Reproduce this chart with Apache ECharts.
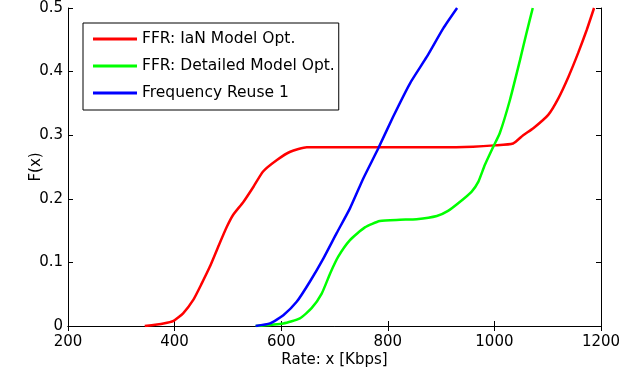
<!DOCTYPE html>
<html>
<head>
<meta charset="utf-8">
<script src="https://cdn.jsdelivr.net/npm/echarts@6/dist/echarts.min.js"></script>
<style>
  html, body { margin: 0; padding: 0; background: #fff; }
  #cdf-box { width: 634px; height: 375px; }
</style>
</head>
<body>
<div id="cdf-box"></div>
<script>
// CDF curves: rate in Kbps, F(x)
const ianX = [344, 379, 398, 416, 435, 451, 466, 482, 498, 510, 529, 548, 566, 592, 617, 648, 700, 800, 900, 960, 1000, 1035, 1054, 1073, 1101, 1120, 1139, 1157, 1173, 1187];
const ianY = [0, 0.004, 0.008, 0.02, 0.041, 0.067, 0.093, 0.125, 0.156, 0.175, 0.195, 0.219, 0.243, 0.261, 0.274, 0.281, 0.281, 0.281, 0.281, 0.282, 0.284, 0.287, 0.300, 0.311, 0.332, 0.358, 0.392, 0.429, 0.465, 0.5];

const detX = [552, 604, 635, 657, 676, 692, 707, 729, 757, 785, 823, 854, 892, 913, 935, 957, 970, 982, 998, 1010, 1029, 1048, 1060, 1072];
const detY = [0, 0.004, 0.012, 0.028, 0.051, 0.083, 0.109, 0.135, 0.155, 0.165, 0.167, 0.168, 0.173, 0.181, 0.195, 0.211, 0.227, 0.253, 0.282, 0.303, 0.355, 0.418, 0.46, 0.5];

const reuseX = [552, 579, 604, 629, 654, 679, 704, 729, 754, 782, 810, 842, 873, 904, 930];
const reuseY = [0, 0.004, 0.017, 0.038, 0.07, 0.106, 0.146, 0.185, 0.232, 0.279, 0.329, 0.382, 0.423, 0.468, 0.5];

const seriesNames = ['FFR: IaN Model Opt.', 'FFR: Detailed Model Opt.', 'Frequency Reuse 1'];
const seriesColors = ['#ff0000', '#00ff00', '#0000ff'];

const FONT = 'DejaVu Sans';

function pairs(xs, ys) {
  return xs.map((x, i) => [x, ys[i]]);
}

function lineSeries(idx, xs, ys) {
  return {
    name: seriesNames[idx],
    type: 'line',
    data: pairs(xs, ys),
    symbol: 'none',
    smooth: 0.18,
    color: seriesColors[idx],
    lineStyle: {width: 2.5, color: seriesColors[idx]},
    xAxisIndex: 0,
    yAxisIndex: 0
  };
}

const mirror = {
  axisLine: {show: true, lineStyle: {color: '#000', width: 1}},
  axisTick: {show: true, inside: true, length: 5, lineStyle: {color: '#000'}},
  axisLabel: {show: false},
  splitLine: {show: false}
};

const option = {
  animation: false,
  backgroundColor: '#fff',
  grid: {left: 68, right: 33, top: 8, bottom: 49, outerBoundsMode: 'none'},
  legend: {
    orient: 'vertical',
    left: 83,
    top: 23,
    data: seriesNames.map(n => ({name: n, icon: 'rect'})),
    backgroundColor: '#fff',
    borderColor: '#000',
    borderWidth: 1,
    borderRadius: 0,
    padding: [8, 4, 9, 10],
    itemGap: 11,
    itemWidth: 44,
    itemHeight: 3,
    textStyle: {fontFamily: FONT, fontSize: 15.5, color: '#000', lineHeight: 16},
    selectedMode: false
  },
  xAxis: [
    {
      type: 'value',
      min: 200, max: 1200, interval: 200,
      name: 'Rate: x [Kbps]',
      nameLocation: 'middle',
      nameGap: 27,
      nameMoveOverlap: false,
      nameTextStyle: {fontFamily: FONT, fontSize: 15, color: '#000'},
      axisLine: {show: true, onZero: false, lineStyle: {color: '#000', width: 1}},
      axisTick: {show: true, inside: true, length: 5, lineStyle: {color: '#000'}},
      axisLabel: {fontFamily: FONT, fontSize: 15, color: '#000', margin: 9, formatter: v => String(v)},
      splitLine: {show: false}
    },
    Object.assign({type: 'value', position: 'top', min: 200, max: 1200, interval: 200}, mirror)
  ],
  yAxis: [
    {
      type: 'value',
      min: 0, max: 0.5, interval: 0.1,
      name: 'F(x)',
      nameLocation: 'middle',
      nameGap: 24,
      nameMoveOverlap: false,
      nameTextStyle: {fontFamily: FONT, fontSize: 15, color: '#000'},
      axisLine: {show: true, onZero: false, lineStyle: {color: '#000', width: 1}},
      axisTick: {show: true, inside: true, length: 5, lineStyle: {color: '#000'}},
      axisLabel: {fontFamily: FONT, fontSize: 15, color: '#000', margin: 5},
      splitLine: {show: false}
    },
    Object.assign({type: 'value', position: 'right', min: 0, max: 0.5, interval: 0.1}, mirror)
  ],
  series: [
    lineSeries(0, ianX, ianY),
    lineSeries(1, detX, detY),
    lineSeries(2, reuseX, reuseY)
  ]
};

const myChart = echarts.init(document.getElementById('cdf-box'), null, {renderer: 'canvas'});
myChart.setOption(option);
window.addEventListener('resize', () => myChart.resize());
</script>
</body>
</html>
